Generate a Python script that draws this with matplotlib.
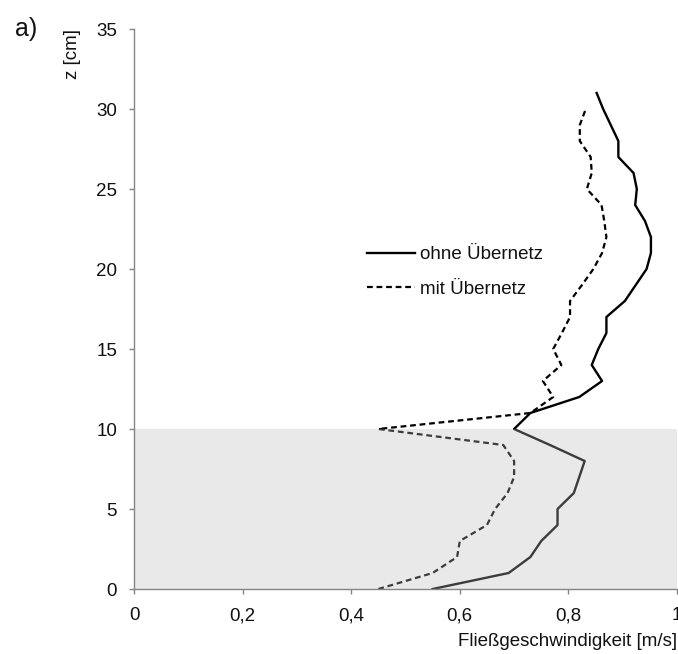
import matplotlib
matplotlib.use('Agg')
import matplotlib.pyplot as plt

plt.rcParams['font.family'] = ['Liberation Sans', 'DejaVu Sans']

# ── data: flow velocity profiles ──
z_ohne = list(range(0, 32))
v_ohne = [0.55, 0.69, 0.73, 0.75, 0.78, 0.78, 0.81, 0.82, 0.83, 0.766,
          0.70, 0.73, 0.82, 0.862, 0.843, 0.855, 0.870, 0.870, 0.904, 0.924,
          0.944, 0.952, 0.952, 0.941, 0.923, 0.926, 0.920, 0.892, 0.892, 0.878,
          0.864, 0.852]

z_mit = list(range(0, 31))
v_mit = [0.45, 0.55, 0.595, 0.60, 0.65, 0.665, 0.688, 0.70, 0.70, 0.68,
         0.45, 0.73, 0.772, 0.753, 0.787, 0.772, 0.788, 0.803, 0.803, 0.825,
         0.846, 0.862, 0.870, 0.866, 0.861, 0.834, 0.843, 0.841, 0.821, 0.821,
         0.832]

xticks = [0, 0.2, 0.4, 0.6, 0.8, 1.0]
xticklabels = ['0', '0,2', '0,4', '0,6', '0,8', '1']
yticks = [0, 5, 10, 15, 20, 25, 30, 35]
net_top = 10

grey = '#858585'
txt = '#111111'
fs = 13.5

fig = plt.figure(figsize=(6.78, 6.54), dpi=100)
ax = fig.add_axes([134 / 678, 65 / 654, 543 / 678, 560 / 654])

ax.plot(v_ohne, z_ohne, color='black', lw=1.7, label='ohne Übernetz', zorder=2)
ax.plot(v_mit, z_mit, color='black', lw=1.6, dashes=(2.6, 1.7), label='mit Übernetz', zorder=2)

# grey band over the net zone (drawn on top, tints the lines)
ax.axhspan(0, net_top, facecolor='#bbbbbb', alpha=0.32, lw=0, zorder=3)

ax.set_xlim(0, 1)
ax.set_ylim(0, 35)
ax.set_xticks(xticks)
ax.set_xticklabels(xticklabels)
ax.set_yticks(yticks)

for s in ['top', 'right']:
    ax.spines[s].set_visible(False)
for s in ['left', 'bottom']:
    ax.spines[s].set_color(grey)
    ax.spines[s].set_linewidth(1.0)
    ax.spines[s].set_zorder(4)

ax.tick_params(axis='both', direction='out', length=3.6, width=1.0, color=grey,
               labelsize=fs, labelcolor=txt)
ax.tick_params(axis='x', pad=9.5)
ax.tick_params(axis='y', pad=8.5)

ax.set_xlabel('Fließgeschwindigkeit [m/s]', loc='right', fontsize=fs, labelpad=6, color=txt)
ax.set_ylabel('z [cm]', loc='top', fontsize=fs, labelpad=11, color=txt)

leg = ax.legend(loc='upper left', bbox_to_anchor=(0.429, 0.612), frameon=False,
                fontsize=fs, handlelength=2.56, handletextpad=0.27,
                labelspacing=0.92, borderpad=0, borderaxespad=0)
for t in leg.get_texts():
    t.set_color(txt)

fig.text(26.5 / 678, 1 - 29 / 654, 'a)', fontsize=18, ha='center', va='center', color=txt)

fig.savefig('out.png', dpi=100)
